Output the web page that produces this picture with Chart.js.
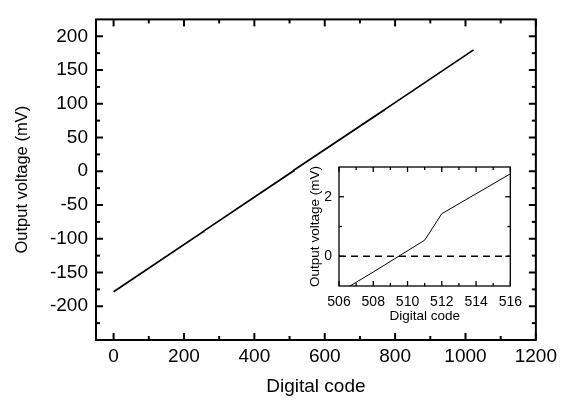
<!DOCTYPE html>
<html>
<head>
<meta charset="utf-8">
<script src="https://cdn.jsdelivr.net/npm/chart.js@4"></script>
<style>
  html, body { margin: 0; padding: 0; background: #fff; }
  #wrap { position: relative; width: 562px; height: 400px; }
  #mainChart { position: absolute; left: 0; top: 0; }
  #insetChart { position: absolute; left: 290px; top: 150px; }
</style>
</head>
<body>
<div id="wrap">
  <canvas id="mainChart" width="562" height="400"></canvas>
  <canvas id="insetChart" width="240" height="180"></canvas>
</div>
<script>
// Transfer curve: full range
const codes    = [0, 16, 255, 256, 511, 512, 767, 768, 1023];
const voltages = [-178.4, -172.9, -89.3, -88.7, 0.5, 1.4, 90.1, 90.6, 179.9];

// Zoom around mid-scale
const insetCodes    = [506, 508, 511, 512, 516];
const insetVoltages = [-1.22, -0.53, 0.54, 1.43, 2.77];
const zeroCodes     = [506, 516];
const zeroVoltages  = [0, 0];

// Axis ticks
const xTicks      = [0, 200, 400, 600, 800, 1000, 1200];
const xMinor      = [100, 300, 500, 700, 900, 1100];
const yTicks      = [-200, -150, -100, -50, 0, 50, 100, 150, 200];
const yMinor      = [-225, -175, -125, -75, -25, 25, 75, 125, 175];
const insetXTicks = [506, 508, 510, 512, 514, 516];
const insetXMinor = [507, 509, 511, 513, 515];
const insetYTicks = [0, 2];
const insetYMinor = [1];

const FONT = 'Liberation Sans, Arial, sans-serif';

// closed frame with inward ticks on all four sides (Origin style)
const frameTicks = {
    id: 'frameTicks',
    afterDraw(chart, args, o) {
        const { ctx, chartArea: a, scales: { x, y } } = chart;
        ctx.save();
        ctx.strokeStyle = '#000';
        ctx.lineWidth = o.lineWidth;
        ctx.lineCap = 'butt';
        ctx.strokeRect(a.left, a.top, a.right - a.left, a.bottom - a.top);
        const seg = (x1, y1, x2, y2) => {
            ctx.beginPath();
            ctx.moveTo(x1, y1);
            ctx.lineTo(x2, y2);
            ctx.stroke();
        };
        const vert = (vals, len) => vals.forEach(v => {
            const px = x.getPixelForValue(v);
            seg(px, a.bottom, px, a.bottom - len);
            seg(px, a.top, px, a.top + len);
        });
        const horiz = (vals, len) => vals.forEach(v => {
            const py = y.getPixelForValue(v);
            seg(a.left, py, a.left + len, py);
            seg(a.right, py, a.right - len, py);
        });
        vert(o.xMajor, o.major);
        vert(o.xMinor, o.minor);
        horiz(o.yMajor, o.major);
        horiz(o.yMinor, o.minor);
        ctx.restore();
    }
};

const toPoints = (xs, ys) => xs.map((v, i) => ({ x: v, y: ys[i] }));
const plain = v => String(v); // no thousands separator

new Chart(document.getElementById('mainChart'), {
    type: 'line',
    data: {
        datasets: [{
            data: toPoints(codes, voltages),
            borderColor: '#000',
            borderWidth: 1.7,
            pointRadius: 0,
            tension: 0
        }]
    },
    options: {
        responsive: false,
        animation: false,
        events: [],
        layout: { padding: { top: 8, right: 22, left: 0, bottom: 0 } },
        plugins: {
            legend: { display: false },
            tooltip: { enabled: false },
            frameTicks: { lineWidth: 2, major: 7, minor: 4, xMajor: xTicks, xMinor: xMinor, yMajor: yTicks, yMinor: yMinor }
        },
        scales: {
            x: {
                type: 'linear',
                min: -50,
                max: 1200,
                afterBuildTicks: s => { s.ticks = xTicks.map(v => ({ value: v })); },
                afterFit: s => { s.height = 60; },
                grid: { display: false, drawTicks: false },
                border: { display: false },
                ticks: { color: '#000', font: { family: FONT, size: 19 }, padding: 5, maxRotation: 0, callback: plain },
                title: { display: true, text: 'Digital code', color: '#000', font: { family: FONT, size: 19 }, padding: { top: 0, bottom: 2 } }
            },
            y: {
                type: 'linear',
                min: -250,
                max: 225,
                afterBuildTicks: s => { s.ticks = yTicks.map(v => ({ value: v })); },
                afterFit: s => { s.width = 96; },
                grid: { display: false, drawTicks: false },
                border: { display: false },
                ticks: { color: '#000', font: { family: FONT, size: 19 }, padding: 8, callback: plain },
                title: { display: true, text: 'Output voltage (mV)', color: '#000', font: { family: FONT, size: 16.5 }, padding: { top: 13, bottom: 0 } }
            }
        }
    },
    plugins: [frameTicks]
});

new Chart(document.getElementById('insetChart'), {
    type: 'line',
    data: {
        datasets: [
            {
                data: toPoints(insetCodes, insetVoltages),
                borderColor: '#000',
                borderWidth: 1,
                pointRadius: 0,
                tension: 0
            },
            {
                data: toPoints(zeroCodes, zeroVoltages),
                borderColor: '#000',
                borderWidth: 1.5,
                borderDash: [7, 5],
                pointRadius: 0
            }
        ]
    },
    options: {
        responsive: false,
        animation: false,
        events: [],
        layout: { padding: { top: 17, right: 16, left: 0, bottom: 0 } },
        plugins: {
            legend: { display: false },
            tooltip: { enabled: false },
            frameTicks: { lineWidth: 1.3, major: 5, minor: 3, xMajor: insetXTicks, xMinor: insetXMinor, yMajor: insetYTicks, yMinor: insetYMinor }
        },
        scales: {
            x: {
                type: 'linear',
                min: 506,
                max: 516,
                afterBuildTicks: s => { s.ticks = insetXTicks.map(v => ({ value: v })); },
                afterFit: s => { s.height = 44; },
                grid: { display: false, drawTicks: false },
                border: { display: false },
                ticks: { color: '#000', font: { family: FONT, size: 14 }, padding: 8, maxRotation: 0, callback: plain },
                title: { display: true, text: 'Digital code', color: '#000', font: { family: FONT, size: 13.5 }, padding: { top: 0, bottom: 6 } }
            },
            y: {
                type: 'linear',
                min: -1,
                max: 3,
                afterBuildTicks: s => { s.ticks = insetYTicks.map(v => ({ value: v })); },
                afterFit: s => { s.width = 49; },
                grid: { display: false, drawTicks: false },
                border: { display: false },
                ticks: { color: '#000', font: { family: FONT, size: 14 }, padding: 7, callback: plain },
                title: { display: true, text: 'Output voltage (mV)', color: '#000', font: { family: FONT, size: 13.5 }, padding: { top: 17, bottom: 0 } }
            }
        }
    },
    plugins: [frameTicks]
});
</script>
</body>
</html>
